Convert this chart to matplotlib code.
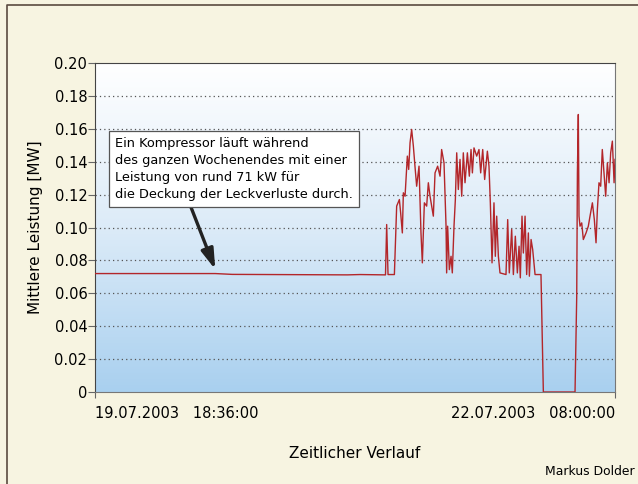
import numpy as np
import matplotlib.pyplot as plt
from matplotlib.lines import Line2D
from matplotlib.colors import LinearSegmentedColormap

# hours since 19.07.2003 18:36:00 and mean power in MW
t = [0.0, 14.2, 16.2, 29.8, 31.29, 34.3, 34.44, 34.6, 34.83, 35.35, 35.62, 35.94,
     36.09, 36.29, 36.41, 36.61, 36.88, 37.04, 37.20, 37.39, 37.59, 37.78, 37.98,
     38.26, 38.49, 38.65, 38.89, 39.16, 39.36, 39.56, 39.95, 40.15, 40.46, 40.74,
     40.93, 41.21, 41.45, 41.52, 41.64, 41.84, 42.04, 42.19, 42.39, 42.55, 42.71,
     42.90, 43.10, 43.30, 43.49, 43.69, 43.97, 44.20, 44.40, 44.56, 44.75, 45.07,
     45.34, 45.54, 45.78, 46.01, 46.33, 46.52, 46.68, 46.88, 47.11, 47.27, 47.43,
     47.63, 47.82, 48.53, 48.73, 48.92, 49.20, 49.40, 49.63, 49.87, 50.07, 50.22,
     50.42, 50.58, 50.78, 50.97, 51.17, 51.29, 51.49, 51.68, 51.96, 52.66, 52.94,
     56.68, 56.88, 56.96, 57.07, 57.15, 57.27, 57.47, 57.66, 57.98, 58.25, 58.45,
     58.73, 58.96, 59.16, 59.32, 59.51, 59.71, 59.90, 60.10, 60.30, 60.50, 60.70,
     60.89, 61.09, 61.29, 61.40]
p = [0.0720, 0.0720, 0.0715, 0.0712, 0.0714, 0.0712, 0.1018, 0.0714, 0.0714, 0.0714,
     0.1130, 0.1170, 0.1089, 0.0967, 0.1211, 0.1190, 0.1434, 0.1353, 0.1515, 0.1596,
     0.1495, 0.1373, 0.1251, 0.1373, 0.0967, 0.0785, 0.1150, 0.1130, 0.1272, 0.1190,
     0.1069, 0.1332, 0.1373, 0.1312, 0.1474, 0.1393, 0.1008, 0.0724, 0.1008, 0.0744,
     0.0825, 0.0724, 0.1008, 0.1170, 0.1454, 0.1231, 0.1414, 0.1190, 0.1454, 0.1272,
     0.1454, 0.1312, 0.1474, 0.1332, 0.1484, 0.1434, 0.1474, 0.1332, 0.1474, 0.1292,
     0.1464, 0.1373, 0.1150, 0.0785, 0.1150, 0.0825, 0.1069, 0.0825, 0.0724, 0.0714,
     0.1048, 0.0724, 0.0988, 0.0714, 0.0947, 0.0724, 0.0886, 0.0694, 0.1069, 0.0845,
     0.1069, 0.0714, 0.0967, 0.0704, 0.0927, 0.0866, 0.0714, 0.0714, 0.0,
     0.0, 0.0582, 0.1332, 0.1687, 0.1069, 0.1008, 0.1028, 0.0927, 0.0967, 0.1008,
     0.1069, 0.1150, 0.1048, 0.0907, 0.1110, 0.1272, 0.1251, 0.1474, 0.1332, 0.1190,
     0.1393, 0.1272, 0.1454, 0.1525, 0.1272, 0.1414]

t_end = 61.4
xtick_labels = ['19.07.2003   18:36:00', '22.07.2003   08:00:00']
note = ('Ein Kompressor läuft während\n'
        'des ganzen Wochenendes mit einer\n'
        'Leistung von rund 71 kW für\n'
        'die Deckung der Leckverluste durch.')

bg = '#f7f4e1'
fig = plt.figure(figsize=(6.38, 4.84), dpi=100, facecolor=bg)
ax = fig.add_axes([95/638, 92/484, 520/638, 329/484])

# white -> light blue gradient behind the plot
cmap = LinearSegmentedColormap.from_list('bg', ['#a9d0ef', '#dcebf8', '#ffffff'])
grad = np.linspace(0, 1, 256).reshape(-1, 1)
ax.imshow(grad, cmap=cmap, origin='lower', aspect='auto',
          extent=[0, 1, 0, 1], transform=ax.transAxes, zorder=0)

for v in np.arange(0.02, 0.19, 0.02):
    ax.axhline(v, color='#555555', lw=0.9, ls=(0, (1, 2.5)), zorder=1)

ax.plot(t, p, color='#b3262a', lw=1.0, zorder=3)

ax.set_xlim(0, t_end)
ax.set_ylim(0, 0.20)
ax.set_yticks(np.arange(0, 0.201, 0.02))
ax.set_yticklabels(['0'] + ['%.2f' % v for v in np.arange(0.02, 0.201, 0.02)],
                   fontsize=10.5)
ax.set_xticks([0, t_end])
ax.set_xticklabels(xtick_labels, fontsize=10.5)
lbls = ax.get_xticklabels()
lbls[0].set_ha('left')
lbls[1].set_ha('right')
ax.tick_params(axis='x', length=4, pad=6, color='#666666')
ax.tick_params(axis='y', length=5, color='#666666', pad=0.5)

for s in ['top', 'left']:
    ax.spines[s].set_color('#444444')
for s in ['bottom', 'right']:
    ax.spines[s].set_color('#777777')

ax.set_ylabel('Mittlere Leistung [MW]', fontsize=11, labelpad=8)
ax.set_xlabel('Zeitlicher Verlauf', fontsize=11, labelpad=18)

ax.annotate(note, xy=(14.2, 0.0745), xytext=(2.35, 0.1549),
            fontsize=9.3, va='top', ha='left', linespacing=1.4, zorder=5,
            bbox=dict(boxstyle='square,pad=0.45', fc='white', ec='#555555', lw=0.9),
            arrowprops=dict(arrowstyle='-|>,head_length=1.3,head_width=0.4',
                            color='#222222', lw=2.4, shrinkA=0, shrinkB=0,
                            relpos=(0.31, 0)))

fig.text(0.995, 0.012, 'Markus Dolder', fontsize=8.9, ha='right', va='bottom')

# thin frame around the figure (left and top only)
fig.add_artist(Line2D([7/638, 7/638, 1], [0, 1 - 5/484, 1 - 5/484],
                      transform=fig.transFigure, color='#5a4a40', lw=1.2))

fig.savefig('out.png', dpi=100, facecolor=bg)
